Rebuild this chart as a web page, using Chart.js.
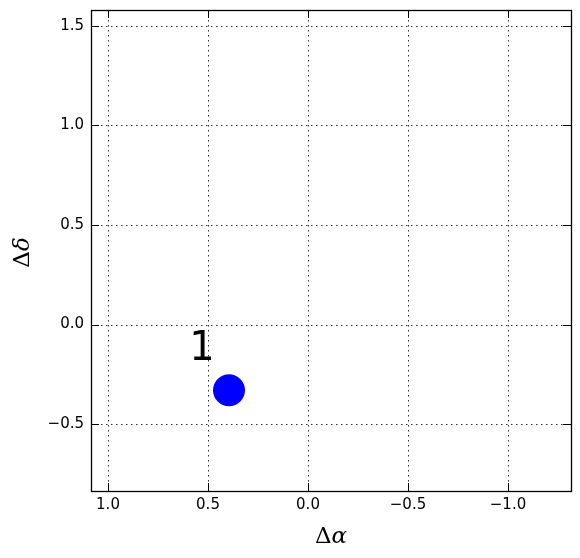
<!DOCTYPE html>
<html>
<head>
<meta charset="utf-8">
<script src="https://cdn.jsdelivr.net/npm/chart.js@4/dist/chart.umd.min.js"></script>
<style>
html,body{margin:0;padding:0;background:#fff;}
#wrap{width:580px;height:558px;position:relative;}
</style>
</head>
<body>
<div id="wrap"><canvas id="c" width="580" height="558"></canvas></div>
<script>
// ---- data ----
const pointLabels = ["1"];
const deltaAlpha = [0.395];
const deltaDelta = [-0.33];
const labelAlpha = [0.53];
const labelDelta = [-0.18];
const xTicks = [1.0, 0.5, 0.0, -0.5, -1.0];
const yTicks = [1.5, 1.0, 0.5, 0.0, -0.5];
const xRange = [-1.315, 1.085];
const yRange = [-0.836, 1.58];

const fmt = v => (v < 0 ? "\u2212" : "") + Math.abs(v).toFixed(1);

const framePlugin = {
  id: 'frame',
  beforeDatasetsDraw(chart) {
    const {ctx, chartArea: a, scales: {x, y}} = chart;
    ctx.save();
    ctx.strokeStyle = '#333';
    ctx.lineWidth = 1;
    ctx.setLineDash([1.5, 3.5]);
    xTicks.forEach(v => {
      const px = Math.round(x.getPixelForValue(v)) + 0.5;
      ctx.beginPath(); ctx.moveTo(px, a.top); ctx.lineTo(px, a.bottom); ctx.stroke();
    });
    yTicks.forEach(v => {
      const py = Math.round(y.getPixelForValue(v)) + 0.5;
      ctx.beginPath(); ctx.moveTo(a.left, py); ctx.lineTo(a.right, py); ctx.stroke();
    });
    ctx.restore();
  },
  afterDatasetsDraw(chart) {
    const {ctx, chartArea: a, scales: {x, y}} = chart;
    ctx.save();
    ctx.setLineDash([]);
    ctx.strokeStyle = '#000';
    ctx.lineWidth = 1;
    const L = 8;
    xTicks.forEach(v => {
      const px = Math.round(x.getPixelForValue(v)) + 0.5;
      ctx.beginPath(); ctx.moveTo(px, a.bottom); ctx.lineTo(px, a.bottom - L); ctx.stroke();
      ctx.beginPath(); ctx.moveTo(px, a.top); ctx.lineTo(px, a.top + L); ctx.stroke();
    });
    yTicks.forEach(v => {
      const py = Math.round(y.getPixelForValue(v)) + 0.5;
      ctx.beginPath(); ctx.moveTo(a.left, py); ctx.lineTo(a.left + L, py); ctx.stroke();
      ctx.beginPath(); ctx.moveTo(a.right, py); ctx.lineTo(a.right - L, py); ctx.stroke();
    });
    ctx.lineWidth = 1.3;
    ctx.strokeRect(Math.round(a.left) + 0.5, Math.round(a.top) + 0.5,
                   Math.round(a.right - a.left), Math.round(a.bottom - a.top));
    ctx.fillStyle = '#000';
    ctx.font = '40px "DejaVu Sans"';
    ctx.textAlign = 'center';
    ctx.textBaseline = 'alphabetic';
    pointLabels.forEach((t, i) => {
      ctx.fillText(t, x.getPixelForValue(labelAlpha[i]), y.getPixelForValue(labelDelta[i]));
    });
    const drawMath = (big, greek, cx, cy) => {
      ctx.font = '23px "DejaVu Serif"';
      const w1 = ctx.measureText(big).width;
      ctx.font = 'italic 23px "DejaVu Serif"';
      const w2 = ctx.measureText(greek).width;
      const x0 = cx - (w1 + w2) / 2;
      ctx.textAlign = 'left';
      ctx.font = '23px "DejaVu Serif"';
      ctx.fillText(big, x0, cy);
      ctx.font = 'italic 23px "DejaVu Serif"';
      ctx.fillText(greek, x0 + w1, cy);
    };
    drawMath('\u0394', '\u03b1', (a.left + a.right) / 2, 543);
    ctx.save();
    ctx.translate(29, (a.top + a.bottom) / 2 + 2);
    ctx.rotate(-Math.PI / 2);
    drawMath('\u0394', '\u03b4', 0, 0);
    ctx.restore();
    ctx.restore();
  }
};

const zeroPad = s => { s.paddingLeft = 0; s.paddingRight = 0; s.paddingTop = 0; s.paddingBottom = 0; };

new Chart(document.getElementById('c'), {
  type: 'scatter',
  data: {
    datasets: [{
      data: deltaAlpha.map((v, i) => ({x: v, y: deltaDelta[i]})),
      backgroundColor: '#0000ff',
      borderWidth: 0,
      pointRadius: 16,
      pointHoverRadius: 16
    }]
  },
  options: {
    responsive: false,
    animation: false,
    events: [],
    layout: {autoPadding: false, padding: {left: 0, right: 9, top: 10, bottom: 0}},
    plugins: {legend: {display: false}, tooltip: {enabled: false}},
    scales: {
      x: {
        type: 'linear',
        reverse: true,
        min: xRange[0], max: xRange[1],
        afterBuildTicks: s => { s.ticks = xTicks.map(v => ({value: v})); },
        afterFit: s => { s.height = 67; zeroPad(s); },
        grid: {display: false, drawTicks: false},
        border: {display: false},
        ticks: {
          color: '#000', padding: 5,
          font: {family: 'DejaVu Sans', size: 15},
          callback: v => fmt(v),
          maxRotation: 0, autoSkip: false
        }
      },
      y: {
        type: 'linear',
        min: yRange[0], max: yRange[1],
        afterBuildTicks: s => { s.ticks = yTicks.map(v => ({value: v})); },
        afterFit: s => { s.width = 91; zeroPad(s); },
        grid: {display: false, drawTicks: false},
        border: {display: false},
        ticks: {
          color: '#000', padding: 7,
          font: {family: 'DejaVu Sans', size: 15},
          callback: v => fmt(v),
          autoSkip: false
        }
      }
    }
  },
  plugins: [framePlugin]
});
</script>
</body>
</html>
